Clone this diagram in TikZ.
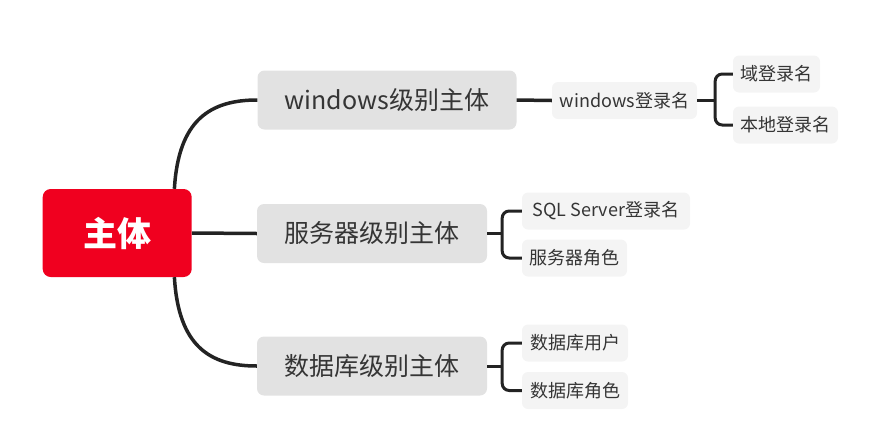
\documentclass[tikz,border=0pt]{standalone}
\usepackage{fontspec}
\newfontfamily\cjk{Noto Sans CJK SC}
\usetikzlibrary{positioning}
\definecolor{rootred}{HTML}{F0001F}
\definecolor{lvone}{HTML}{E2E2E2}
\definecolor{lvtwo}{HTML}{F4F4F4}
\definecolor{txt}{HTML}{353535}
\definecolor{edge}{HTML}{232323}
\tikzset{
  rootbox/.style={fill=rootred, rounded corners=8pt, minimum width=149pt, minimum height=88pt, inner sep=0pt,
    text=white, font=\cjk\bfseries\fontsize{34pt}{40pt}\selectfont},
  onebox/.style={fill=lvone, rounded corners=7pt, minimum height=59pt, inner sep=0pt,
    text=txt, font=\cjk\fontsize{25pt}{30pt}\selectfont},
  twobox/.style={fill=lvtwo, rounded corners=6pt, minimum height=37pt, inner sep=0pt,
    text=txt, font=\cjk\fontsize{18pt}{22pt}\selectfont},
  mainline/.style={draw=edge, line width=3.5pt},
  brline/.style={draw=edge, line width=3pt, rounded corners=7pt},
}
\begin{document}
\begin{tikzpicture}[x=1pt, y=-1pt]
\useasboundingbox (0,0) rectangle (870,445);
% root
\node[rootbox] (root) at (117.2,233) {主体};
% level one
\node[onebox, minimum width=259pt] (win) at (387,100) {windows级别主体};
\node[onebox, minimum width=230pt] (srv) at (372,233.5) {服务器级别主体};
\node[onebox, minimum width=230pt] (db) at (372,366) {数据库级别主体};
% level two
\node[twobox, minimum width=145pt] (winlogin) at (624.5,100.5) {windows登录名};
\node[twobox, minimum width=87pt] (domain) at (776.5,74) {域登录名};
\node[twobox, minimum width=105pt] (local) at (785.5,125) {本地登录名};
\node[twobox, minimum width=168pt] (sqllogin) at (606,211) {SQL Server登录名};
\node[twobox, minimum width=105pt] (srvrole) at (574.5,258) {服务器角色};
\node[twobox, minimum width=106pt] (dbuser) at (575,343) {数据库用户};
\node[twobox, minimum width=106pt] (dbrole) at (575,390.5) {数据库角色};
% root connectors
\draw[mainline] ([xshift=-17.5pt]root.north east) .. controls +(4,-69) and +(-47,0) .. (win.west);
\draw[mainline] (root.east) -- (srv.west);
\draw[mainline] ([xshift=-17.5pt]root.south east) .. controls +(4,69) and +(-47,0) .. (db.west);
% level one to two
\draw[mainline] (win.east) -- (winlogin.west);
% brackets
\draw[brline] (winlogin.east) -- ++(18,0) coordinate (bw);
\draw[brline] (domain.west) -| (bw) |- (local.west);
\draw[brline] (srv.east) -- ++(15,0) coordinate (bs);
\draw[brline] (sqllogin.west) -| (bs) |- (srvrole.west);
\draw[brline] (db.east) -- ++(15,0) coordinate (bd);
\draw[brline] (dbuser.west) -| (bd) |- (dbrole.west);
\end{tikzpicture}
\end{document}
